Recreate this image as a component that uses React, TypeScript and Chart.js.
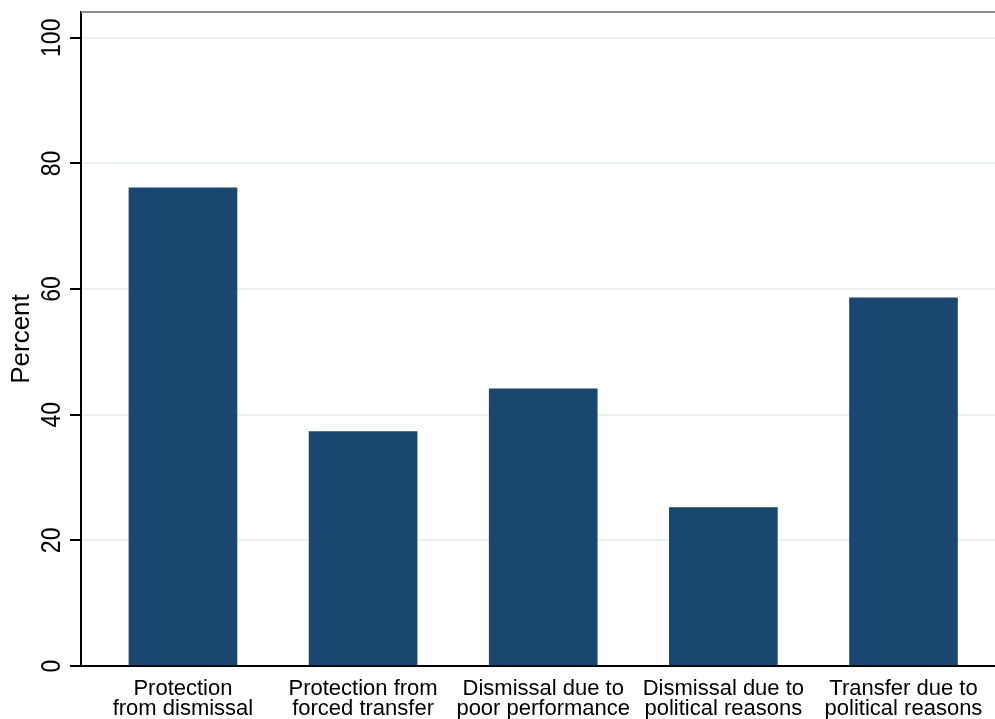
import React, { useEffect, useRef } from 'react';
import { Chart, registerables } from 'chart.js';

Chart.register(...registerables);

const categories: string[][] = [
  ['Protection', 'from dismissal'],
  ['Protection from', 'forced transfer'],
  ['Dismissal due to', 'poor performance'],
  ['Dismissal due to', 'political reasons'],
  ['Transfer due to', 'political reasons'],
];
const percentValues: number[] = [76.1, 37.3, 44.1, 25.2, 58.6];
const yTickValues: number[] = [0, 20, 40, 60, 80, 100];
const yTickLabels: string[] = ['0', '20', '40', '60', '80', '100'];
const yAxisTitle = 'Percent';

const FONT = '"Liberation Sans", Arial, Helvetica, sans-serif';

const overlayPlugin = {
  id: 'overlay',
  afterDraw(chart: any) {
    const ctx = chart.ctx;
    const ys = chart.scales.y;
    const area = chart.chartArea;
    ctx.save();
    // top frame line
    ctx.strokeStyle = '#8c8c8c';
    ctx.lineWidth = 2;
    ctx.beginPath();
    ctx.moveTo(area.left, area.top);
    ctx.lineTo(area.right, area.top);
    ctx.stroke();
    // rotated y tick labels
    ctx.fillStyle = '#000';
    ctx.font = `23px ${FONT}`;
    ctx.textAlign = 'center';
    ctx.textBaseline = 'alphabetic';
    yTickValues.forEach((v, i) => {
      const py = ys.getPixelForValue(v);
      ctx.save();
      ctx.translate(60, py);
      ctx.rotate(-Math.PI / 2);
      ctx.scale(1, 1.18);
      ctx.fillText(yTickLabels[i], 0, 0);
      ctx.restore();
    });
    ctx.restore();
  },
};

export default function App() {
  const canvasRef = useRef<HTMLCanvasElement | null>(null);

  useEffect(() => {
    document.body.style.margin = '0';
    const canvas = canvasRef.current;
    if (!canvas) return;
    const chart = new Chart(canvas, {
      type: 'bar',
      data: {
        datasets: [
          {
            label: yAxisTitle,
            data: percentValues.map((v, i) => ({ x: i + 1, y: v })),
            backgroundColor: '#1a476f',
            borderWidth: 0,
            barThickness: 108,
          },
        ],
      },
      options: {
        animation: false,
        responsive: false,
        maintainAspectRatio: false,
        layout: { padding: { top: 12, left: 0, right: 0, bottom: 0 } },
        plugins: {
          legend: { display: false },
          tooltip: { enabled: false },
        },
        scales: {
          x: {
            type: 'linear',
            min: 0.434,
            max: 5.508,
            offset: false,
            afterBuildTicks: (scale: any) => {
              scale.ticks = categories.map((_, i) => ({ value: i + 1 }));
            },
            afterFit: (scale: any) => {
              scale.height = 53;
              scale.paddingLeft = 0;
              scale.paddingRight = 0;
            },
            grid: { display: true, drawOnChartArea: false, drawTicks: false },
            border: { display: true, color: '#000', width: 2 },
            ticks: {
              autoSkip: false,
              maxRotation: 0,
              minRotation: 0,
              padding: 13,
              color: '#000',
              font: { family: FONT, size: 22, lineHeight: 0.91 },
              callback: (value: any) => categories[Math.round(Number(value)) - 1] ?? '',
            },
          },
          y: {
            type: 'linear',
            min: 0,
            max: 104.1,
            afterBuildTicks: (scale: any) => {
              scale.ticks = yTickValues.map((v) => ({ value: v }));
            },
            afterFit: (scale: any) => {
              scale.width = 81;
              scale.paddingTop = 0;
              scale.paddingBottom = 0;
            },
            grid: {
              color: (c: any) => (c.tick && c.tick.value === 0 ? 'rgba(0,0,0,0)' : '#eaf2f3'),
              lineWidth: 2,
              drawTicks: true,
              tickLength: 11,
              tickColor: '#000',
              tickWidth: 2,
            },
            border: { display: true, color: '#000', width: 2 },
            ticks: {
              color: 'rgba(0,0,0,0)',
              font: { family: FONT, size: 1 },
            },
            title: {
              display: true,
              text: yAxisTitle,
              color: '#000',
              font: { family: FONT, size: 26 },
              padding: { top: 6, bottom: 0 },
            },
          },
        },
      },
      plugins: [overlayPlugin],
    } as any);
    return () => chart.destroy();
  }, []);

  return (
    <div style={{ width: 995, height: 719, background: '#fff' }}>
      <canvas ref={canvasRef} width={995} height={719} style={{ display: 'block' }} />
    </div>
  );
}
